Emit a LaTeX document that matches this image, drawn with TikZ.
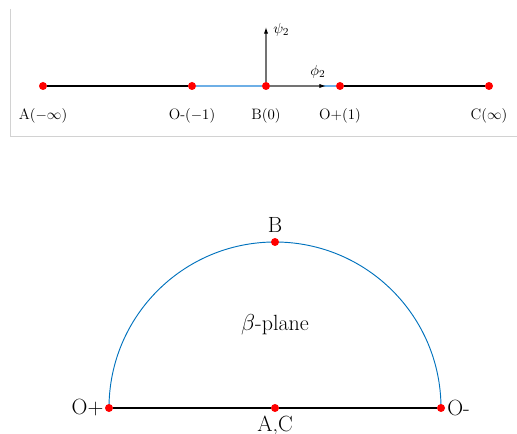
\documentclass[tikz,border=0pt]{standalone}
\usepackage{amsmath,amssymb}
\usepackage{tikz}
\usetikzlibrary{arrows.meta,positioning,backgrounds}
\definecolor{planeblue}{RGB}{0,114,189}
\definecolor{cutblue}{RGB}{110,175,230}
\definecolor{framegray}{RGB}{210,210,210}

\begin{document}
\begin{tikzpicture}[x=0.75pt, y=-0.75pt, >=Latex,
  dot/.style={circle, fill=red, inner sep=0pt, minimum size=6pt},
  cut/.style={line width=1.9pt},
  slit/.style={cutblue, line width=1.1pt},
  axis/.style={black!55, line width=0.8pt, -{Latex[length=5pt,width=3.2pt,color=black]}},
  lbl/.style={font=\fontsize{11.3}{13}\selectfont},
  bigl/.style={font=\fontsize{16.5}{19}\selectfont}]
\useasboundingbox (0,0) rectangle (517,434);
\draw[framegray, line width=0.7pt] (10,9) -- (10,136) -- (517,136);
% real axis
\node[dot] (aInf) at (43,86) {};
\node[dot] (oMinus) at (192,86) {};
\node[dot] (bZero) at (266,86) {};
\node[dot] (oPlus) at (340,86) {};
\node[dot] (cInf) at (489,86) {};
\coordinate (psiEnd) at (266,27);
\coordinate (phiEnd) at (326,86);
\draw[cut] (aInf) -- (oMinus);
\draw[slit] (oMinus) -- (bZero);
\draw[slit] (bZero) -- (oPlus);
\draw[cut] (oPlus) -- (cInf);
\draw[axis] (bZero) -- (psiEnd);
\draw[axis] (bZero) -- (phiEnd);
\node[lbl, below=10pt of aInf] (aInfL) {A$(-\infty)$};
\node[lbl, below=10pt of oMinus] (oMinusL) {O-$(-1)$};
\node[lbl, below=10pt of bZero] (bZeroL) {B$(0)$};
\node[lbl, below=10pt of oPlus] (oPlusL) {O+$(1)$};
\node[lbl, below=10pt of cInf] (cInfL) {C$(\infty)$};
\node[lbl, right=2pt of psiEnd, yshift=-2.25pt] (psiL) {$\psi_2$};
\node[lbl, above=2pt of phiEnd, xshift=-6pt] (phiL) {$\phi_2$};
% beta-plane
\node[dot] (opB) at (109,408) {};
\node[dot] (acB) at (275,408) {};
\node[dot] (omB) at (441,408) {};
\node[dot] (bTop) at (275,242) {};
\begin{scope}[on background layer]
\draw[planeblue, line width=0.7pt] (opB.center) arc[start angle=180, end angle=0, radius=124.5pt];
\end{scope}
\draw[cut] (opB) -- (acB);
\draw[cut] (acB) -- (omB);
\node[bigl, above=0.5pt of bTop] (bTopL) {B};
\node[bigl, below=-1pt of acB] (acL) {A,C};
\node[bigl, left=-2.5pt of opB] (opL) {O+};
\node[bigl, right=-2pt of omB] (omL) {O-};
\node[bigl] (betaL) at (275,325) {$\beta$-plane};
\end{tikzpicture}
\end{document}
